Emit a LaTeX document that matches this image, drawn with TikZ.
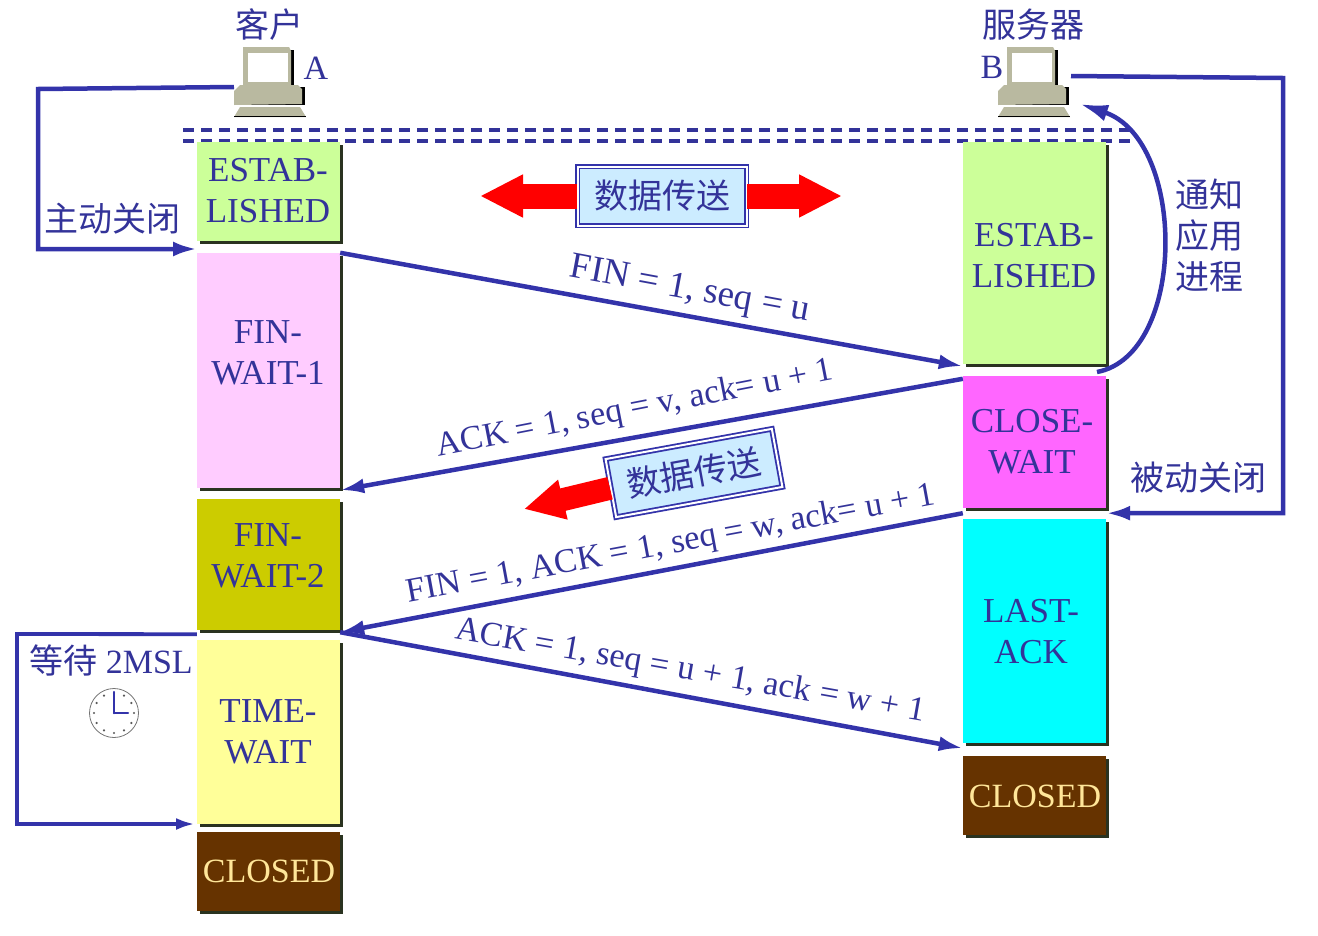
\documentclass[tikz,border=0pt]{standalone}
\usepackage{fontspec}
\setmainfont{Liberation Serif}
\newfontfamily\cjk{Noto Sans CJK SC}
\usetikzlibrary{arrows.meta,shadows,calc}
\definecolor{inkblue}{HTML}{333399}
\definecolor{linkblue}{HTML}{3333AA}
\definecolor{estabgreen}{HTML}{CCFF99}
\definecolor{waitpink}{HTML}{FFCCFF}
\definecolor{waitolive}{HTML}{CCCC00}
\definecolor{waityellow}{HTML}{FFFF99}
\definecolor{closedbrown}{HTML}{663300}
\definecolor{closemagenta}{HTML}{FF66FF}
\definecolor{lastcyan}{HTML}{00FFFF}
\definecolor{paleblue}{HTML}{CCECFF}
\definecolor{pcgrey}{HTML}{B9B9A0}
\definecolor{closedtext}{HTML}{FFE699}
\definecolor{edgedark}{HTML}{2A3320}
\tikzset{
  statebox/.style={minimum width=143pt,inner sep=0pt,
    drop shadow={shadow xshift=2.5pt,shadow yshift=-2.5pt,opacity=1,fill=edgedark}},
  statetext/.style={align=center,inner sep=0pt,text=inkblue,font=\fontsize{35}{41}\selectfont},
  lab/.style={inner sep=0pt,text=inkblue,font=\fontsize{34}{41}\selectfont},
  cnlab/.style={align=center,inner sep=0pt,text=inkblue,font=\cjk\fontsize{34}{41}\selectfont},
  pktlab/.style={inner sep=0pt,text=inkblue,font=\fontsize{34.3}{38}\selectfont},
  link/.style={draw=linkblue,line width=4.5pt,-{Latex[length=24pt,width=15pt]}},
  databox/.style={draw=linkblue,line width=1.8pt,double=white,double distance=2pt,fill=paleblue,
    minimum width=169pt,minimum height=59pt,inner sep=0pt,text=inkblue,font=\cjk\fontsize{34}{41}\selectfont},
  pics/computer/.style={code={
    \fill[black] (12,5)--(60,5)--(60,42)--(12,42)--cycle;
    \fill[pcgrey] (9,2)--(55,2)--(57,6)--(57,40)--(9,40)--cycle;
    \fill[white] (14,8)--(54,8)--(54,37)--(14,37)--cycle;
    \fill[black] (6,42)--(71,42)--(71,60)--(6,60)--cycle;
    \fill[pcgrey] (0,60)--(0,46)--(6,40)--(64,40)--(68,44)--(68,59)--cycle;
    \fill[pcgrey] (6,62)--(66,62)--(72,72)--(0,72)--cycle;
    \draw[black,line width=1.2pt] (0,71.5)--(72,71.5);
    \coordinate (-port) at (0,42);
  }}
}
\begin{document}
\begin{tikzpicture}[x=1pt,y=-1pt,>=latex]
  \useasboundingbox (0,0) rectangle (1318,935);
  % hosts
  \pic (pcA) at (234,45) {computer};
  \pic (pcB) at (998,45) {computer};
  \coordinate (pcBout) at (1071,76);
  \coordinate (pcBin) at (1080,104);
  \node[cnlab] (client) at (269,25) {客户};
  \node[lab] (nameA) at (316,68) {A};
  \node[cnlab] (server) at (1033,25) {服务器};
  \node[lab] (nameB) at (992,67) {B};
  % time origin
  \coordinate (dashAl) at (183,130);
  \coordinate (dashAr) at (1130,130);
  \coordinate (dashBl) at (183,141);
  \coordinate (dashBr) at (1130,141);
  \draw[inkblue,line width=3.2pt,dash pattern=on 11pt off 7pt] (dashAl)--(dashAr);
  \draw[inkblue,line width=3.2pt,dash pattern=on 11pt off 7pt] (dashBl)--(dashBr);
  % client states
  \node[statebox,fill=estabgreen,minimum height=99pt] (estabA) at (268.5,191.5) {};
  \node[statetext] (estabAtext) at (268,191) {ESTAB-\\LISHED};
  \node[statebox,fill=waitpink,minimum height=235pt] (finwaita) at (268.5,370.5) {};
  \node[statetext] (finwaitatext) at (268,353) {FIN-\\WAIT-1};
  \node[statebox,fill=waitolive,minimum height=131pt] (finwaitb) at (268.5,564.5) {};
  \node[statetext] (finwaitbtext) at (268,556) {FIN-\\WAIT-2};
  \node[statebox,fill=waityellow,minimum height=184pt] (timewait) at (268.5,732) {};
  \node[statetext] (timewaittext) at (268,732) {TIME-\\WAIT};
  \node[statebox,fill=closedbrown,minimum height=79pt] (closedA) at (268.5,871.5) {};
  \node[statetext,text=closedtext,font=\fontsize{34}{41}\selectfont] (closedAtext) at (269,871) {CLOSED};
  % server states
  \node[statebox,fill=estabgreen,minimum height=222pt] (estabB) at (1034.5,253) {};
  \node[statetext] (estabBtext) at (1034,256) {ESTAB-\\LISHED};
  \node[statebox,fill=closemagenta,minimum height=132pt] (closewait) at (1034.5,442) {};
  \node[statetext] (closewaittext) at (1032,442) {CLOSE-\\WAIT};
  \node[statebox,fill=lastcyan,minimum height=224pt] (lastack) at (1034.5,631) {};
  \node[statetext] (lastacktext) at (1031,632) {LAST-\\ACK};
  \node[statebox,fill=closedbrown,minimum height=79pt] (closedB) at (1034.5,795.5) {};
  \node[statetext,text=closedtext,font=\fontsize{34}{41}\selectfont] (closedBtext) at (1035,796) {CLOSED};
  % packets
  \draw[link] (finwaita.north east)--([yshift=-2pt]estabB.south west);
  \draw[link] ([yshift=-3pt]closewait.north west)--([yshift=-2pt]finwaita.south east);
  \draw[link] ([yshift=-5pt]closewait.south west)--([yshift=-2pt]finwaitb.south east);
  \draw[link] ([yshift=-2pt]finwaitb.south east)--([yshift=-5pt]lastack.south west);
  \node[pktlab,rotate=-10.5,font=\fontsize{37}{38}\selectfont] (finlab) at (690,291) {FIN = 1, seq = u};
  \node[pktlab,rotate=11] (acklab) at (635,410) {ACK = 1, seq = v, ack= u + 1};
  \node[pktlab,rotate=10.5] (finacklab) at (671,545) {FIN = 1, ACK = 1, seq = w, ack= u + 1};
  \node[pktlab,rotate=-10] (lastlab) at (690,672) {ACK = 1, seq = u + 1, ack = w + 1};
  % data transfer
  \node[databox] (dataone) at (662,196) {数据传送};
  \coordinate (dataonel) at (480,196);
  \coordinate (dataoner) at (842,196);
  \draw[red,line width=25pt,-{Triangle[length=43pt,width=40pt]}] (dataone.west)--(dataonel);
  \draw[red,line width=25pt,-{Triangle[length=43pt,width=40pt]}] (dataone.east)--(dataoner);
  \node[databox,rotate=10.3] (datatwo) at (694,473) {数据传送};
  \coordinate (datatwol) at (524,509);
  \draw[red,line width=23pt,-{Triangle[length=40pt,width=38pt]}] (datatwo.west)--(datatwol);
  % close and notify
  \coordinate (bendAa) at (38,89);
  \coordinate (bendAb) at (38,249);
  \coordinate (arriveA) at (197,249);
  \draw[link] (pcA-port)--(bendAa)--(bendAb)--(arriveA);
  \node[cnlab] (activelab) at (113,219) {主动关闭};
  \coordinate (bendBa) at (1283,78);
  \coordinate (bendBb) at (1283,513);
  \draw[link] (pcBout)--(bendBa)--(bendBb)--([yshift=-5pt]closewait.south east);
  \node[cnlab] (passivelab) at (1198,478) {被动关闭};
  \coordinate (notifyfrom) at (1097,372);
  \draw[link,-{Latex[length=28pt,width=17pt]}] (notifyfrom) .. controls (1187,355) and (1187,140) .. (pcBin);
  \node[cnlab] (notifylab) at (1209,236) {通知\\应用\\进程};
  % 2MSL timer
  \coordinate (bendTa) at (17,634);
  \coordinate (bendTb) at (17,824);
  \coordinate (arriveT) at (195,824);
  \draw[link,line width=3.8pt,-{Latex[length=19pt,width=12pt]}] ([yshift=-4pt]finwaitb.south west)--(bendTa)--(bendTb)--(arriveT);
  \node[lab] (msllab) at (111,660) {{\cjk 等待} 2MSL};
  \node[circle,draw=black!55,line width=.8pt,minimum size=49pt,inner sep=0pt] (clock) at (114,713) {};
  \foreach \a in {0,30,...,330}
    \fill[black!65] ($(clock)+(\a:20)$) circle (1.2pt);
  \draw[linkblue,line width=2.5pt,line cap=round] (clock.center)--++(0,-21);
  \draw[linkblue,line width=2.5pt,line cap=round] (clock.center)--++(14,0);
\end{tikzpicture}
\end{document}
